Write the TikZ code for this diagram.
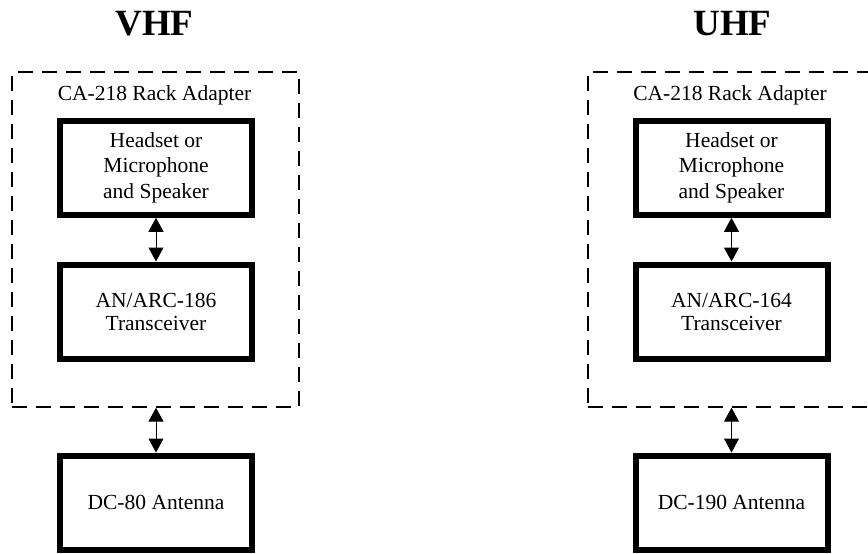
\documentclass[tikz,border=0pt]{standalone}
\usepackage{fontspec}
\setmainfont{Liberation Serif}
\usetikzlibrary{arrows.meta}
\tikzset{
  unitbox/.style={draw=black, line width=6pt, minimum width=192pt, minimum height=94pt,
    inner sep=0pt, align=center, font=\fontsize{21.5}{25.8}\selectfont},
  rackbox/.style={draw=black, line width=2pt, dash pattern=on 15pt off 9pt,
    minimum width=287pt, minimum height=334.4pt, inner sep=0pt},
  racklabel/.style={anchor=base, inner sep=0pt, font=\fontsize{21.5}{25.8}\selectfont},
  bandtitle/.style={anchor=base, inner sep=0pt, font=\bfseries\fontsize{37}{44}\selectfont},
  link/.style={line width=1pt, {Triangle[width=15pt,length=14pt]}-{Triangle[width=15pt,length=14pt]}}
}
\begin{document}
\begin{tikzpicture}[x=1pt, y=-1pt]
\useasboundingbox (0,0) rectangle (868,554);
% VHF column
\node[bandtitle] (titleL) at (154.5,35) {VHF};
\node[rackbox] (rackL) at (155.8,239.5) {};
\node[racklabel] (rlabL) at (154.5,100) {CA-218 Rack Adapter};
\node[unitbox] (hsL) at (156,167.8) {Headset or\\Microphone\\and Speaker};
\node[unitbox, font=\fontsize{21.5}{23}\selectfont] (trL) at (156,311.5) {AN/ARC-186\\Transceiver};
\node[unitbox] (antL) at (156,502.5) {DC-80 Antenna};
\draw[link] (hsL.south) -- (trL.north);
\draw[link] (rackL.south -| antL.north) -- (antL.north);
% UHF column
\node[bandtitle] (titleR) at (732.5,35) {UHF};
\node[rackbox] (rackR) at (731.3,239.5) {};
\node[racklabel] (rlabR) at (730,100) {CA-218 Rack Adapter};
\node[unitbox] (hsR) at (731.5,167.8) {Headset or\\Microphone\\and Speaker};
\node[unitbox, font=\fontsize{21.5}{23}\selectfont] (trR) at (731.5,311.5) {AN/ARC-164\\Transceiver};
\node[unitbox] (antR) at (731.5,502.5) {DC-190 Antenna};
\draw[link] (hsR.south) -- (trR.north);
\draw[link] (rackR.south -| antR.north) -- (antR.north);
\end{tikzpicture}
\end{document}
